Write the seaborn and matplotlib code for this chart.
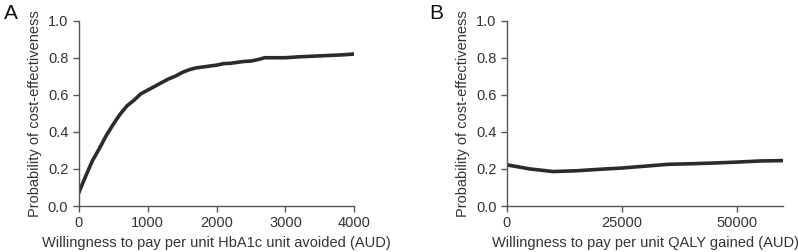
import numpy as np
import pandas as pd
import matplotlib
matplotlib.use("Agg")
import matplotlib.pyplot as plt
import seaborn as sns

# Panel A: willingness to pay per HbA1c unit avoided
wtp_a = [0, 100, 200, 300, 400, 500, 600, 700, 800, 900, 1000, 1100, 1200, 1300,
         1400, 1500, 1600, 1700, 1800, 1900, 2000, 2100, 2200, 2300, 2400, 2500,
         2600, 2700, 2800, 3000, 3200, 3500, 3800, 4000]
prob_a = [0.07, 0.16, 0.245, 0.31, 0.38, 0.44, 0.495, 0.54, 0.57, 0.605, 0.625, 0.645,
          0.665, 0.685, 0.70, 0.72, 0.735, 0.745, 0.75, 0.755, 0.76, 0.768, 0.77,
          0.775, 0.78, 0.782, 0.79, 0.80, 0.80, 0.80, 0.805, 0.81, 0.815, 0.82]

# Panel B: willingness to pay per QALY gained
wtp_b = [0, 5000, 10000, 15000, 20000, 25000, 30000, 35000, 40000, 45000, 50000, 55000, 60000]
prob_b = [0.222, 0.20, 0.186, 0.19, 0.198, 0.205, 0.215, 0.225, 0.228, 0.232, 0.237, 0.243, 0.245]

df_a = pd.DataFrame({"wtp": wtp_a, "prob": prob_a})
df_b = pd.DataFrame({"wtp": wtp_b, "prob": prob_b})

sns.set_style("ticks")
plt.rcParams['font.family'] = ['Liberation Sans', 'DejaVu Sans']

fig = plt.figure(figsize=(7.98, 2.52), dpi=100)
ax_a = fig.add_axes([0.0986, 0.1825, 0.3455, 0.7355])
ax_b = fig.add_axes([0.6353, 0.1825, 0.3463, 0.7355])

line_col = "#2b2b2b"
axis_col = "#555555"

panels = [
    (ax_a, df_a, [0, 1000, 2000, 3000, 4000], 4000,
     "Willingness to pay per unit HbA1c unit avoided (AUD)", "A", 0.005),
    (ax_b, df_b, [0, 25000, 50000], 60000,
     "Willingness to pay per unit QALY gained (AUD)", "B", 0.538),
]

for ax, df, xt, xmax, xlab, letter, lx in panels:
    sns.lineplot(data=df, x="wtp", y="prob", ax=ax, color=line_col, linewidth=2.6)
    ax.set_xlim(0, xmax)
    ax.set_ylim(0, 1.0)
    ax.set_xticks(xt)
    ax.set_yticks([0, 0.2, 0.4, 0.6, 0.8, 1.0])
    ax.set_yticklabels(["0.0", "0.2", "0.4", "0.6", "0.8", "1.0"])
    ax.set_xlabel(xlab, fontsize=10.5, color="#333333", labelpad=4)
    ax.set_ylabel("Probability of cost-effectiveness", fontsize=10.5, color="#333333", labelpad=4)
    ax.tick_params(colors=axis_col, labelcolor="#333333", labelsize=10.5, length=4, width=1)
    sns.despine(ax=ax)
    for s in ["left", "bottom"]:
        ax.spines[s].set_color(axis_col)
        ax.spines[s].set_linewidth(1)
    fig.text(lx, 0.985, letter, fontsize=15, color="#111111", va="top", ha="left")

fig.savefig("out.png", dpi=100)
